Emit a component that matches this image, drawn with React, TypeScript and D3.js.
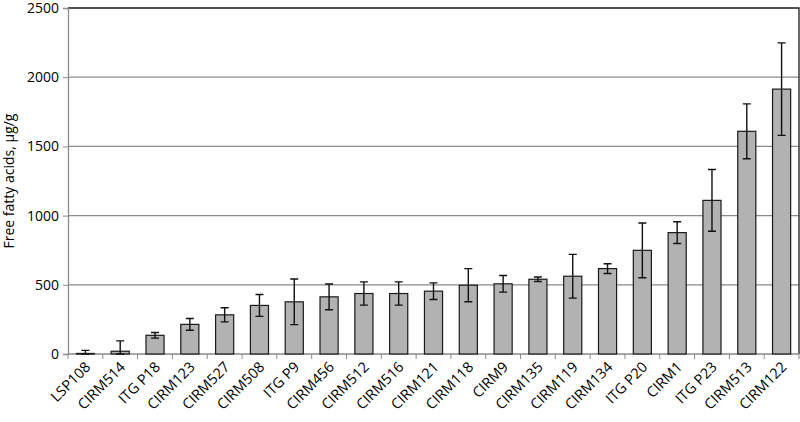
import { useEffect, useRef } from 'react';
import { select, scaleBand, scaleLinear, axisLeft, format } from 'd3';

const width = 800;
const height = 422;
const margin = { top: 8, right: 1, bottom: 68, left: 68 };

const strains = [
  'LSP108', 'CIRM514', 'ITG P18', 'CIRM123', 'CIRM527', 'CIRM508', 'ITG P9',
  'CIRM456', 'CIRM512', 'CIRM516', 'CIRM121', 'CIRM118', 'CIRM9', 'CIRM135',
  'CIRM119', 'CIRM134', 'ITG P20', 'CIRM1', 'ITG P23', 'CIRM513', 'CIRM122',
];
const ffaMean = [
  4, 20, 135, 214, 283, 351, 377, 413, 437, 437, 454, 497, 507, 540, 562, 617,
  749, 877, 1110, 1609, 1914,
];
const ffaErr = [
  22, 75, 20, 42, 51, 79, 165, 93, 84, 84, 60, 120, 60, 16, 158, 35, 198, 79,
  223, 198, 334,
];
const yTicks = [0, 500, 1000, 1500, 2000, 2500];

const font = '"Open Sans", "Noto Sans", sans-serif';

function App() {
  const ref = useRef<SVGSVGElement>(null);

  useEffect(() => {
    const svg = select(ref.current);
    svg.selectAll('*').remove();

    const innerW = width - margin.left - margin.right;
    const innerH = height - margin.top - margin.bottom;

    const x = scaleBand().domain(strains).range([0, innerW]).paddingInner(0.48).paddingOuter(0.24);
    const y = scaleLinear().domain([0, 2500]).range([innerH, 0]);

    const g = svg.append('g').attr('transform', `translate(${margin.left},${margin.top})`);

    // gridlines
    g.selectAll('line.grid')
      .data(yTicks.filter((t) => t > 0 && t < 2500))
      .join('line')
      .attr('x1', 0)
      .attr('x2', innerW)
      .attr('y1', (d) => y(d))
      .attr('y2', (d) => y(d))
      .attr('stroke', '#8a8a8a')
      .attr('stroke-width', 1.3);

    // top + right border
    g.append('path')
      .attr('d', `M0,${y(2500)}H${innerW}V${innerH}`)
      .attr('fill', 'none')
      .attr('stroke', '#1a1a1a')
      .attr('stroke-width', 1.3);

    // y axis
    const ya = g.append('g').call(
      axisLeft(y).tickValues(yTicks).tickFormat(format('d')).tickSize(5).tickPadding(4)
    );
    ya.select('.domain').attr('stroke', '#8a8a8a').attr('stroke-width', 1.3);
    ya.selectAll('.tick line').attr('stroke', '#8a8a8a');
    ya.selectAll('text').attr('font-family', font).attr('font-size', 14).attr('fill', '#000');

    // x axis with ticks between categories
    const step = x.step();
    const xa = g.append('g').attr('transform', `translate(0,${innerH})`);
    xa.append('line').attr('x1', 0).attr('x2', innerW).attr('stroke', '#8a8a8a').attr('stroke-width', 1.3);
    xa.selectAll('line.tk')
      .data(strains.map((_, i) => i).concat([strains.length]))
      .join('line')
      .attr('x1', (i) => i * step)
      .attr('x2', (i) => i * step)
      .attr('y1', 0)
      .attr('y2', 5)
      .attr('stroke', '#8a8a8a');
    xa.selectAll('text')
      .data(strains)
      .join('text')
      .attr('transform', (d) => `translate(${x(d)! + x.bandwidth() / 2 + 6},${14}) rotate(-45)`)
      .attr('text-anchor', 'end')
      .attr('font-family', font)
      .attr('font-size', 14.5)
      .text((d) => d);

    // bars
    g.selectAll('rect.bar')
      .data(strains)
      .join('rect')
      .attr('x', (d) => x(d)!)
      .attr('y', (_, i) => y(ffaMean[i]))
      .attr('width', x.bandwidth())
      .attr('height', (_, i) => innerH - y(ffaMean[i]))
      .attr('fill', '#b2b2b2')
      .attr('stroke', '#1a1a1a')
      .attr('stroke-width', 1.2);

    // error bars
    const eb = g.selectAll('g.err').data(strains).join('g');
    eb.append('path')
      .attr('d', (d, i) => {
        const cx = x(d)! + x.bandwidth() / 2;
        const lo = y(Math.max(0, ffaMean[i] - ffaErr[i]));
        const hi = y(ffaMean[i] + ffaErr[i]);
        return `M${cx},${lo}V${hi}M${cx - 4},${hi}H${cx + 4}M${cx - 4},${lo}H${cx + 4}`;
      })
      .attr('fill', 'none')
      .attr('stroke', '#111')
      .attr('stroke-width', 1.4);

    // y title
    svg.append('text')
      .attr('transform', `translate(14,${margin.top + innerH / 2}) rotate(-90)`)
      .attr('text-anchor', 'middle')
      .attr('font-family', font)
      .attr('font-size', 14)
      .text('Free fatty acids, µg/g');
  }, []);

  return <svg ref={ref} width={width} height={height} style={{ position: 'absolute', left: 0, top: 0 }} />;
}

export default App;
